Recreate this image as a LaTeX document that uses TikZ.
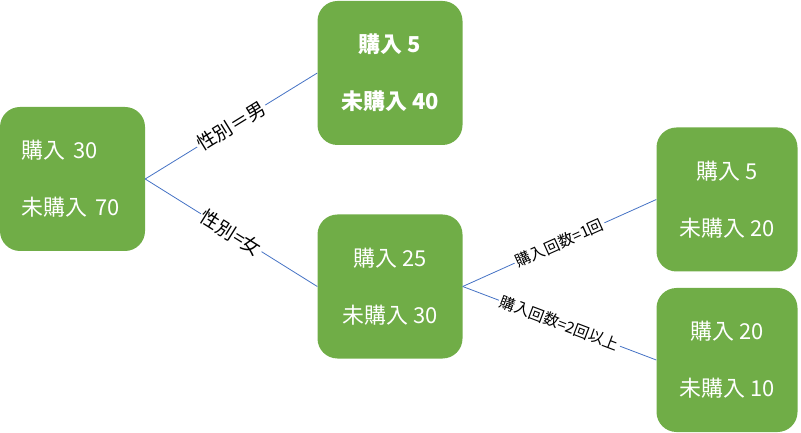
\documentclass[tikz,border=0pt]{standalone}
\usepackage{fontspec}
\setmainfont{Noto Sans CJK JP}

\definecolor{boxgreen}{HTML}{70AD47}
\definecolor{lineblue}{HTML}{4472C4}

\tikzset{
  box/.style={fill=boxgreen, rounded corners=20bp, text=white, align=center,
    minimum width=145bp, minimum height=144bp, font=\fontsize{22}{57}\selectfont},
  edge/.style={draw=lineblue, line width=0.8bp},
  cond/.style={midway, sloped, fill=white, text=black, inner sep=2bp,
    font=\fontsize{19}{22}\selectfont},
  condsmall/.style={cond, font=\fontsize{15.5}{18}\selectfont}
}

\begin{document}
\begin{tikzpicture}[x=1bp,y=-1bp]
  \useasboundingbox (0,0) rectangle (801,433);

  \node[box, align=left, text width=101bp, inner xsep=22bp] (root) at (72.5,179) {購入 30\\未購入 70};
  \node[box, font=\fontsize{22}{57}\selectfont\bfseries] (male) at (390,73) {購入 5\\未購入 40};
  \node[box] (female) at (390,286.5) {購入 25\\未購入 30};
  \node[box, minimum width=141bp] (once) at (727,199.5) {購入 5\\未購入 20};
  \node[box, minimum width=141bp] (twice) at (727,360) {購入 20\\未購入 10};

  \draw[edge] (root.east) -- (male.west) node[cond] {性別＝男};
  \draw[edge] (root.east) -- (female.west) node[cond] {性別=女};
  \draw[edge] (female.east) -- (once.west) node[condsmall] {購入回数=1回};
  \draw[edge] (female.east) -- (twice.west) node[condsmall] {購入回数=2回以上};
\end{tikzpicture}
\end{document}
